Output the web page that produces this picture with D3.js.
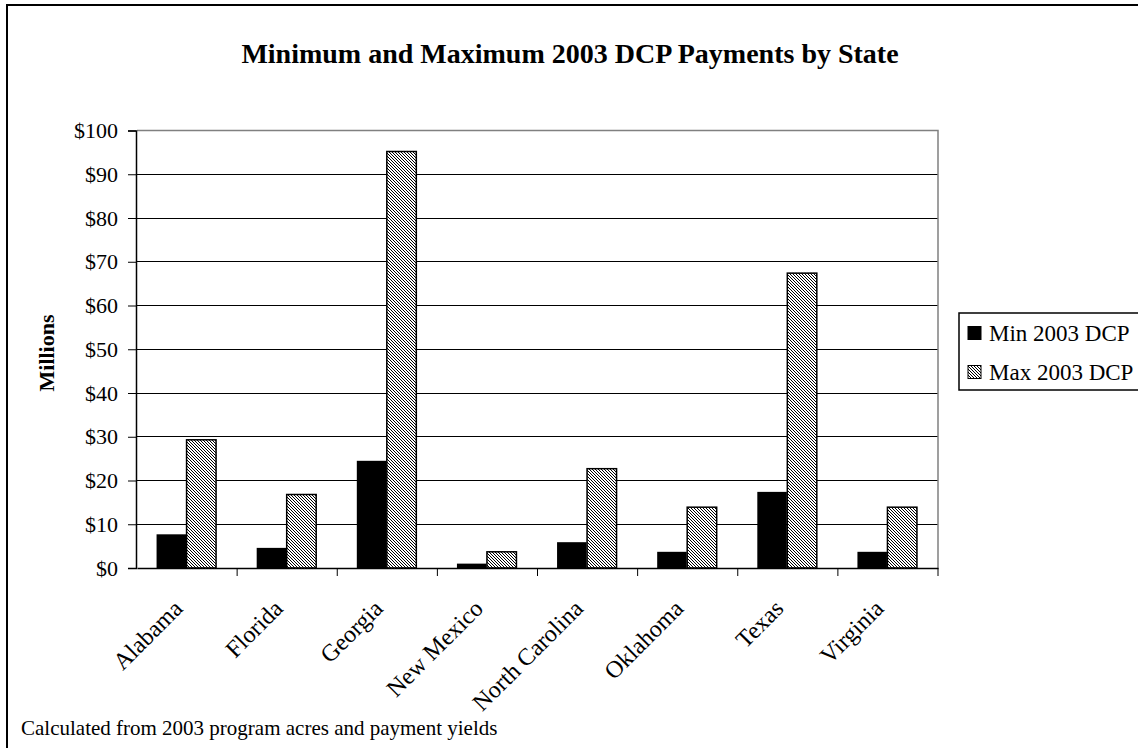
<!DOCTYPE html>
<html>
<head>
<meta charset="utf-8">
<script src="https://cdn.jsdelivr.net/npm/d3@7"></script>
<style>
  body { margin: 0; background: #fff; }
  svg { display: block; font-family: "Liberation Serif", "Times New Roman", serif; }
</style>
</head>
<body>
<div id="chart"></div>
<script>
const states = ["Alabama", "Florida", "Georgia", "New Mexico", "North Carolina", "Oklahoma", "Texas", "Virginia"];
const minValues = [7.7, 4.6, 24.5, 1.0, 5.9, 3.7, 17.4, 3.7];
const maxValues = [29.3, 16.8, 95.2, 3.7, 22.7, 13.9, 67.4, 13.9];
const yTicks = [0, 10, 20, 30, 40, 50, 60, 70, 80, 90, 100];
const seriesNames = ["Min 2003 DCP", "Max 2003 DCP"];

const width = 1138, height = 748;
const plot = {left: 137, right: 938, top: 130.5, bottom: 568};

const svg = d3.select("#chart").append("svg")
    .attr("width", width)
    .attr("height", height);

// hatch pattern for the max series
const defs = svg.append("defs");
const pat = defs.append("pattern")
    .attr("id", "hatch")
    .attr("patternUnits", "userSpaceOnUse")
    .attr("width", 3)
    .attr("height", 3);
pat.append("rect").attr("width", 3).attr("height", 3).attr("fill", "#fff");
pat.append("path")
    .attr("d", "M0,0 L3,3 M-1,2 L1,4 M2,-1 L4,1")
    .attr("stroke", "#000")
    .attr("stroke-width", 1);

// outer chart border
svg.append("rect")
    .attr("x", 7).attr("y", 5)
    .attr("width", 1200).attr("height", 800)
    .attr("fill", "none")
    .attr("stroke", "#000")
    .attr("stroke-width", 2);

const x = d3.scaleBand().domain(states).range([plot.left, plot.right]).padding(0);
const y = d3.scaleLinear().domain([0, 100]).range([plot.bottom, plot.top]);
const barW = 29.5;

// gridlines
svg.append("g")
    .selectAll("line")
    .data(yTicks.filter(d => d > 0 && d < 100))
    .join("line")
    .attr("x1", plot.left).attr("x2", plot.right)
    .attr("y1", d => y(d)).attr("y2", d => y(d))
    .attr("stroke", "#000")
    .attr("stroke-width", 1)
    .attr("shape-rendering", "crispEdges");

// plot area top/right border (grey)
svg.append("path")
    .attr("d", `M${plot.left},${y(100)} H${plot.right} V${plot.bottom}`)
    .attr("fill", "none")
    .attr("stroke", "#808080")
    .attr("stroke-width", 1.5);

// bars
const groups = svg.append("g")
    .selectAll("g")
    .data(states)
    .join("g");

groups.append("rect")
    .attr("x", d => x(d) + x.bandwidth() / 2 - barW - 1)
    .attr("y", (d, i) => y(minValues[i]))
    .attr("width", barW)
    .attr("height", (d, i) => y(0) - y(minValues[i]))
    .attr("fill", "#000");

groups.append("rect")
    .attr("x", d => x(d) + x.bandwidth() / 2 - 0.5)
    .attr("y", (d, i) => y(maxValues[i]))
    .attr("width", barW)
    .attr("height", (d, i) => y(0) - y(maxValues[i]))
    .attr("fill", "url(#hatch)")
    .attr("stroke", "#000")
    .attr("stroke-width", 1.5);

// y axis
const yAxis = d3.axisLeft(y)
    .tickValues(yTicks)
    .tickSize(8)
    .tickPadding(10)
    .tickFormat(d => "$" + d);
const yg = svg.append("g")
    .attr("transform", `translate(${plot.left - 1},0)`)
    .call(yAxis);
yg.select(".domain").attr("stroke", "#000").attr("stroke-width", 1.5);
yg.selectAll(".tick line").attr("stroke", "#000");
yg.selectAll(".tick text")
    .attr("font-size", 22)
    .attr("font-family", "Liberation Serif, serif")
    .attr("fill", "#000");

// x axis
const xAxis = d3.axisBottom(x).tickSize(0).tickFormat("");
const xg = svg.append("g")
    .attr("transform", `translate(0,${plot.bottom})`)
    .call(xAxis);
xg.select(".domain").attr("stroke", "#000").attr("stroke-width", 1.5);
xg.selectAll(".tick").remove();

// boundary ticks between categories
svg.append("g")
    .selectAll("line")
    .data(states.slice(1).concat(["end"]))
    .join("line")
    .attr("x1", (d, i) => plot.left + (i + 1) * x.step())
    .attr("x2", (d, i) => plot.left + (i + 1) * x.step())
    .attr("y1", plot.bottom)
    .attr("y2", plot.bottom + 8)
    .attr("stroke", "#000");

// category labels
svg.append("g")
    .selectAll("text")
    .data(states)
    .join("text")
    .attr("transform", d => `translate(${x(d) + x.bandwidth() / 2 - 3},${plot.bottom + 42}) rotate(-45)`)
    .attr("text-anchor", "end")
    .attr("font-size", 24)
    .attr("fill", "#000")
    .text(d => d);

// title
svg.append("text")
    .attr("x", 570)
    .attr("y", 63)
    .attr("text-anchor", "middle")
    .attr("font-size", 28)
    .attr("font-weight", "bold")
    .text("Minimum and Maximum 2003 DCP Payments by State");

// y axis title
svg.append("text")
    .attr("transform", `translate(54,353) rotate(-90)`)
    .attr("text-anchor", "middle")
    .attr("font-size", 22)
    .attr("font-weight", "bold")
    .text("Millions");

// footnote
svg.append("text")
    .attr("x", 21)
    .attr("y", 735)
    .attr("font-size", 21)
    .text("Calculated from 2003 program acres and payment yields");

// legend
const legend = svg.append("g");
legend.append("rect")
    .attr("x", 959).attr("y", 313)
    .attr("width", 300).attr("height", 77)
    .attr("fill", "#fff")
    .attr("stroke", "#000")
    .attr("stroke-width", 1.5);
const items = legend.selectAll("g.item")
    .data(seriesNames)
    .join("g")
    .attr("class", "item")
    .attr("transform", (d, i) => `translate(968,${333 + i * 39})`);
items.append("rect")
    .attr("x", 0).attr("y", -6.5)
    .attr("width", 13).attr("height", 13)
    .attr("fill", (d, i) => i === 0 ? "#000" : "url(#hatch)")
    .attr("stroke", "#000")
    .attr("stroke-width", 1);
items.append("text")
    .attr("x", 21)
    .attr("dy", "0.35em")
    .attr("font-size", 23)
    .text(d => d);
</script>
</body>
</html>
